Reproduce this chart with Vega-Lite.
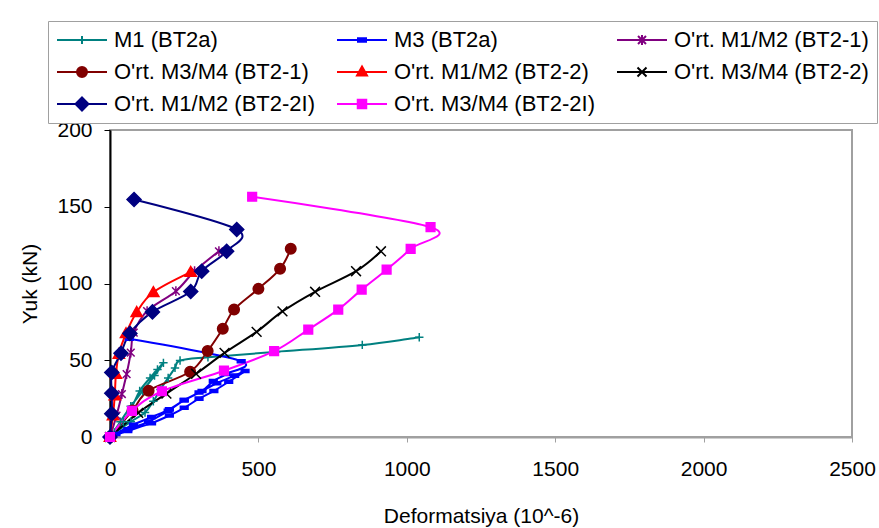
{
  "$schema": "https://vega.github.io/schema/vega-lite/v6.json",
  "width": 742,
  "height": 307,
  "autosize": {"type": "none"},
  "padding": {"left": 110, "top": 130, "right": 27, "bottom": 91},
  "background": "white",
  "config": {
    "font": "Liberation Sans",
    "view": {"stroke": "#a0a0a0", "strokeWidth": 2},
    "axis": {
      "labelFont": "Liberation Sans",
      "labelFontSize": 21,
      "labelColor": "black",
      "labelFlush": false,
      "titleFont": "Liberation Sans",
      "titleFontSize": 21,
      "titleFontWeight": "normal",
      "titleColor": "black",
      "grid": false
    },
    "legend": {
      "title": null,
      "orient": "none",
      "legendX": -62,
      "legendY": -109,
      "direction": "horizontal",
      "columns": 3,
      "gridAlign": "all",
      "labelFont": "Liberation Sans",
      "labelFontSize": 22,
      "labelColor": "black",
      "labelLimit": 400,
      "symbolSize": 100,
      "symbolStrokeWidth": 2,
      "symbolOpacity": 1,
      "symbolOffset": 15,
      "labelOffset": 21,
      "columnPadding": 18,
      "rowPadding": 10,
      "padding": 8,
      "strokeColor": "#a0a0a0",
      "fillColor": "white"
    }
  },
  "data": {
    "values": [
      {"s": "M1 (BT2a)", "i": 0, "x": 0, "y": 0},
      {"s": "M1 (BT2a)", "i": 1, "x": 45, "y": 10},
      {"s": "M1 (BT2a)", "i": 2, "x": 75, "y": 20},
      {"s": "M1 (BT2a)", "i": 3, "x": 100, "y": 30},
      {"s": "M1 (BT2a)", "i": 4, "x": 135, "y": 38.5},
      {"s": "M1 (BT2a)", "i": 5, "x": 160, "y": 44},
      {"s": "M1 (BT2a)", "i": 6, "x": 180, "y": 48.3},
      {"s": "M1 (BT2a)", "i": 7, "x": 150, "y": 40},
      {"s": "M1 (BT2a)", "i": 8, "x": 110, "y": 30},
      {"s": "M1 (BT2a)", "i": 9, "x": 70, "y": 20},
      {"s": "M1 (BT2a)", "i": 10, "x": 35, "y": 10},
      {"s": "M1 (BT2a)", "i": 11, "x": 15, "y": 3},
      {"s": "M1 (BT2a)", "i": 12, "x": 70, "y": 10},
      {"s": "M1 (BT2a)", "i": 13, "x": 118, "y": 16},
      {"s": "M1 (BT2a)", "i": 14, "x": 146, "y": 23.3},
      {"s": "M1 (BT2a)", "i": 15, "x": 170, "y": 31},
      {"s": "M1 (BT2a)", "i": 16, "x": 196, "y": 38.5},
      {"s": "M1 (BT2a)", "i": 17, "x": 219, "y": 45},
      {"s": "M1 (BT2a)", "i": 18, "x": 236, "y": 49.8},
      {"s": "M1 (BT2a)", "i": 19, "x": 330, "y": 52},
      {"s": "M1 (BT2a)", "i": 20, "x": 560, "y": 55.5},
      {"s": "M1 (BT2a)", "i": 21, "x": 850, "y": 60},
      {"s": "M1 (BT2a)", "i": 22, "x": 1042, "y": 65},

      {"s": "M3 (BT2a)", "i": 0, "x": 0, "y": 0},
      {"s": "M3 (BT2a)", "i": 1, "x": 60, "y": 4},
      {"s": "M3 (BT2a)", "i": 2, "x": 140, "y": 9},
      {"s": "M3 (BT2a)", "i": 3, "x": 200, "y": 14},
      {"s": "M3 (BT2a)", "i": 4, "x": 250, "y": 19},
      {"s": "M3 (BT2a)", "i": 5, "x": 300, "y": 25},
      {"s": "M3 (BT2a)", "i": 6, "x": 350, "y": 30},
      {"s": "M3 (BT2a)", "i": 7, "x": 400, "y": 36},
      {"s": "M3 (BT2a)", "i": 8, "x": 455, "y": 43},
      {"s": "M3 (BT2a)", "i": 9, "x": 420, "y": 40},
      {"s": "M3 (BT2a)", "i": 10, "x": 360, "y": 35},
      {"s": "M3 (BT2a)", "i": 11, "x": 300, "y": 29},
      {"s": "M3 (BT2a)", "i": 12, "x": 250, "y": 24},
      {"s": "M3 (BT2a)", "i": 13, "x": 196, "y": 17},
      {"s": "M3 (BT2a)", "i": 14, "x": 130, "y": 10},
      {"s": "M3 (BT2a)", "i": 15, "x": 60, "y": 5},
      {"s": "M3 (BT2a)", "i": 16, "x": 20, "y": 2},
      {"s": "M3 (BT2a)", "i": 17, "x": 79, "y": 8},
      {"s": "M3 (BT2a)", "i": 18, "x": 140, "y": 13},
      {"s": "M3 (BT2a)", "i": 19, "x": 200, "y": 18},
      {"s": "M3 (BT2a)", "i": 20, "x": 250, "y": 24},
      {"s": "M3 (BT2a)", "i": 21, "x": 310, "y": 30},
      {"s": "M3 (BT2a)", "i": 22, "x": 348, "y": 36.4},
      {"s": "M3 (BT2a)", "i": 23, "x": 390, "y": 41},
      {"s": "M3 (BT2a)", "i": 24, "x": 442, "y": 49.4},
      {"s": "M3 (BT2a)", "i": 25, "x": 65, "y": 64},

      {"s": "O'rt. M1/M2 (BT2-1)", "i": 0, "x": 0, "y": 0},
      {"s": "O'rt. M1/M2 (BT2-1)", "i": 1, "x": 22, "y": 14},
      {"s": "O'rt. M1/M2 (BT2-1)", "i": 2, "x": 40, "y": 28},
      {"s": "O'rt. M1/M2 (BT2-1)", "i": 3, "x": 56, "y": 41},
      {"s": "O'rt. M1/M2 (BT2-1)", "i": 4, "x": 70, "y": 55},
      {"s": "O'rt. M1/M2 (BT2-1)", "i": 5, "x": 80, "y": 68},
      {"s": "O'rt. M1/M2 (BT2-1)", "i": 6, "x": 125, "y": 82},
      {"s": "O'rt. M1/M2 (BT2-1)", "i": 7, "x": 222, "y": 95},
      {"s": "O'rt. M1/M2 (BT2-1)", "i": 8, "x": 285, "y": 108},
      {"s": "O'rt. M1/M2 (BT2-1)", "i": 9, "x": 367, "y": 121},

      {"s": "O'rt. M3/M4 (BT2-1)", "i": 0, "x": 0, "y": 0},
      {"s": "O'rt. M3/M4 (BT2-1)", "i": 1, "x": 76, "y": 17.3},
      {"s": "O'rt. M3/M4 (BT2-1)", "i": 2, "x": 130, "y": 30.2},
      {"s": "O'rt. M3/M4 (BT2-1)", "i": 3, "x": 270, "y": 42.5},
      {"s": "O'rt. M3/M4 (BT2-1)", "i": 4, "x": 329, "y": 56},
      {"s": "O'rt. M3/M4 (BT2-1)", "i": 5, "x": 380, "y": 70.5},
      {"s": "O'rt. M3/M4 (BT2-1)", "i": 6, "x": 418, "y": 83},
      {"s": "O'rt. M3/M4 (BT2-1)", "i": 7, "x": 500, "y": 96.5},
      {"s": "O'rt. M3/M4 (BT2-1)", "i": 8, "x": 573, "y": 109.6},
      {"s": "O'rt. M3/M4 (BT2-1)", "i": 9, "x": 609, "y": 122.6},

      {"s": "O'rt. M1/M2 (BT2-2)", "i": 0, "x": 0, "y": 0},
      {"s": "O'rt. M1/M2 (BT2-2)", "i": 1, "x": 10, "y": 14},
      {"s": "O'rt. M1/M2 (BT2-2)", "i": 2, "x": 16, "y": 27},
      {"s": "O'rt. M1/M2 (BT2-2)", "i": 3, "x": 20, "y": 41},
      {"s": "O'rt. M1/M2 (BT2-2)", "i": 4, "x": 30, "y": 54},
      {"s": "O'rt. M1/M2 (BT2-2)", "i": 5, "x": 54, "y": 67.5},
      {"s": "O'rt. M1/M2 (BT2-2)", "i": 6, "x": 90, "y": 81.3},
      {"s": "O'rt. M1/M2 (BT2-2)", "i": 7, "x": 146, "y": 94.3},
      {"s": "O'rt. M1/M2 (BT2-2)", "i": 8, "x": 272, "y": 107.4},

      {"s": "O'rt. M3/M4 (BT2-2)", "i": 0, "x": 0, "y": 0},
      {"s": "O'rt. M3/M4 (BT2-2)", "i": 1, "x": 95, "y": 15.7},
      {"s": "O'rt. M3/M4 (BT2-2)", "i": 2, "x": 190, "y": 28.3},
      {"s": "O'rt. M3/M4 (BT2-2)", "i": 3, "x": 290, "y": 41.2},
      {"s": "O'rt. M3/M4 (BT2-2)", "i": 4, "x": 386, "y": 54.8},
      {"s": "O'rt. M3/M4 (BT2-2)", "i": 5, "x": 494, "y": 68.5},
      {"s": "O'rt. M3/M4 (BT2-2)", "i": 6, "x": 581, "y": 81.8},
      {"s": "O'rt. M3/M4 (BT2-2)", "i": 7, "x": 691, "y": 94.6},
      {"s": "O'rt. M3/M4 (BT2-2)", "i": 8, "x": 829, "y": 108},
      {"s": "O'rt. M3/M4 (BT2-2)", "i": 9, "x": 913, "y": 121},

      {"s": "O'rt. M1/M2 (BT2-2I)", "i": 0, "x": 0, "y": 0},
      {"s": "O'rt. M1/M2 (BT2-2I)", "i": 1, "x": 6, "y": 15.2},
      {"s": "O'rt. M1/M2 (BT2-2I)", "i": 2, "x": 6, "y": 28.5},
      {"s": "O'rt. M1/M2 (BT2-2I)", "i": 3, "x": 6, "y": 42},
      {"s": "O'rt. M1/M2 (BT2-2I)", "i": 4, "x": 37, "y": 54.6},
      {"s": "O'rt. M1/M2 (BT2-2I)", "i": 5, "x": 67, "y": 67.5},
      {"s": "O'rt. M1/M2 (BT2-2I)", "i": 6, "x": 143, "y": 81.5},
      {"s": "O'rt. M1/M2 (BT2-2I)", "i": 7, "x": 272, "y": 94.8},
      {"s": "O'rt. M1/M2 (BT2-2I)", "i": 8, "x": 309, "y": 108},
      {"s": "O'rt. M1/M2 (BT2-2I)", "i": 9, "x": 393, "y": 121},
      {"s": "O'rt. M1/M2 (BT2-2I)", "i": 10, "x": 427, "y": 135.2},
      {"s": "O'rt. M1/M2 (BT2-2I)", "i": 11, "x": 81, "y": 154.7},

      {"s": "O'rt. M3/M4 (BT2-2I)", "i": 0, "x": 0, "y": 0},
      {"s": "O'rt. M3/M4 (BT2-2I)", "i": 1, "x": 74, "y": 17},
      {"s": "O'rt. M3/M4 (BT2-2I)", "i": 2, "x": 175, "y": 29.8},
      {"s": "O'rt. M3/M4 (BT2-2I)", "i": 3, "x": 384, "y": 43.2},
      {"s": "O'rt. M3/M4 (BT2-2I)", "i": 4, "x": 553, "y": 55.9},
      {"s": "O'rt. M3/M4 (BT2-2I)", "i": 5, "x": 668, "y": 70},
      {"s": "O'rt. M3/M4 (BT2-2I)", "i": 6, "x": 769, "y": 83},
      {"s": "O'rt. M3/M4 (BT2-2I)", "i": 7, "x": 848, "y": 96},
      {"s": "O'rt. M3/M4 (BT2-2I)", "i": 8, "x": 932, "y": 109},
      {"s": "O'rt. M3/M4 (BT2-2I)", "i": 9, "x": 1013, "y": 122.6},
      {"s": "O'rt. M3/M4 (BT2-2I)", "i": 10, "x": 1080, "y": 136.7},
      {"s": "O'rt. M3/M4 (BT2-2I)", "i": 11, "x": 479, "y": 156.5}
    ]
  },
  "encoding": {
    "x": {
      "field": "x",
      "type": "quantitative",
      "scale": {"domain": [0, 2500], "nice": false, "zero": false},
      "axis": {
        "title": "Deformatsiya (10^-6)",
        "values": [0, 500, 1000, 1500, 2000, 2500],
        "format": "d",
        "domainColor": "#a0a0a0",
        "domainWidth": 2,
        "tickColor": "#a0a0a0",
        "tickSize": 5,
        "labelPadding": 16,
        "titlePadding": 26
      }
    },
    "y": {
      "field": "y",
      "type": "quantitative",
      "scale": {"domain": [0, 200], "nice": false},
      "axis": {
        "title": "Yuk (kN)",
        "values": [0, 50, 100, 150, 200],
        "format": "d",
        "domainColor": "black",
        "domainWidth": 2,
        "tickColor": "black",
        "tickSize": 6,
        "labelPadding": 12,
        "titlePadding": 16
      }
    }
  },
  "resolve": {
    "scale": {"stroke": "independent", "fill": "independent", "shape": "independent"},
    "legend": {"stroke": "independent", "fill": "independent", "shape": "independent"}
  },
  "layer": [
    {
      "mark": {"type": "line", "strokeWidth": 2, "interpolate": "cardinal"},
      "encoding": {
        "order": {"field": "i", "type": "quantitative"},
        "stroke": {
          "field": "s",
          "type": "nominal",
          "scale": {
            "domain": ["M1 (BT2a)", "M3 (BT2a)", "O'rt. M1/M2 (BT2-1)", "O'rt. M3/M4 (BT2-1)", "O'rt. M1/M2 (BT2-2)", "O'rt. M3/M4 (BT2-2)", "O'rt. M1/M2 (BT2-2I)", "O'rt. M3/M4 (BT2-2I)"],
            "range": ["#008080", "#0000ff", "#800080", "#800000", "#ff0000", "#000000", "#000080", "#ff00ff"]
          },
          "legend": null
        }
      }
    },
    {
      "mark": {"type": "point", "filled": true, "size": 196, "strokeWidth": 1.5, "opacity": 1},
      "encoding": {
        "stroke": {
          "field": "s",
          "type": "nominal",
          "scale": {
            "domain": ["M1 (BT2a)", "M3 (BT2a)", "O'rt. M1/M2 (BT2-1)", "O'rt. M3/M4 (BT2-1)", "O'rt. M1/M2 (BT2-2)", "O'rt. M3/M4 (BT2-2)", "O'rt. M1/M2 (BT2-2I)", "O'rt. M3/M4 (BT2-2I)"],
            "range": ["#008080", "#0000ff", "#800080", "#800000", "#ff0000", "#000000", "#000080", "#ff00ff"]
          },
          "legend": null
        },
        "fill": {
          "field": "s",
          "type": "nominal",
          "scale": {
            "domain": ["M1 (BT2a)", "M3 (BT2a)", "O'rt. M1/M2 (BT2-1)", "O'rt. M3/M4 (BT2-1)", "O'rt. M1/M2 (BT2-2)", "O'rt. M3/M4 (BT2-2)", "O'rt. M1/M2 (BT2-2I)", "O'rt. M3/M4 (BT2-2I)"],
            "range": ["#008080", "#0000ff", "#800080", "#800000", "#ff0000", "#000000", "#000080", "#ff00ff"]
          },
          "legend": null
        },
        "shape": {
          "field": "s",
          "type": "nominal",
          "scale": {
            "domain": ["M1 (BT2a)", "M3 (BT2a)", "O'rt. M1/M2 (BT2-1)", "O'rt. M3/M4 (BT2-1)", "O'rt. M1/M2 (BT2-2)", "O'rt. M3/M4 (BT2-2)", "O'rt. M1/M2 (BT2-2I)", "O'rt. M3/M4 (BT2-2I)"],
            "range": [
              "M-0.6,0H0.6M0,-0.6V0.6",
              "M-0.55,-0.22H0.55V0.22H-0.55Z",
              "M-0.55,-0.55L0.55,0.55M-0.55,0.55L0.55,-0.55M0,-0.7V0.7",
              "M0.75,0C0.75,0.414,0.414,0.75,0,0.75C-0.414,0.75,-0.75,0.414,-0.75,0C-0.75,-0.414,-0.414,-0.75,0,-0.75C0.414,-0.75,0.75,-0.414,0.75,0Z",
              "M0,-0.8L0.8,0.6L-0.8,0.6Z",
              "M-0.7,-0.7L0.7,0.7M-0.7,0.7L0.7,-0.7",
              "M0,-1L1,0L0,1L-1,0Z",
              "M-0.62,-0.62H0.62V0.62H-0.62Z"
            ]
          },
          "legend": null
        }
      }
    },
    {
      "transform": [{"filter": "false"}],
      "mark": {"type": "point", "filled": true, "size": 100, "strokeWidth": 2, "opacity": 1},
      "encoding": {
        "stroke": {
          "field": "s",
          "type": "nominal",
          "scale": {
            "domain": ["M1 (BT2a)", "M3 (BT2a)", "O'rt. M1/M2 (BT2-1)", "O'rt. M3/M4 (BT2-1)", "O'rt. M1/M2 (BT2-2)", "O'rt. M3/M4 (BT2-2)", "O'rt. M1/M2 (BT2-2I)", "O'rt. M3/M4 (BT2-2I)"],
            "range": ["#008080", "#0000ff", "#800080", "#800000", "#ff0000", "#000000", "#000080", "#ff00ff"]
          }
        },
        "fill": {
          "field": "s",
          "type": "nominal",
          "scale": {
            "domain": ["M1 (BT2a)", "M3 (BT2a)", "O'rt. M1/M2 (BT2-1)", "O'rt. M3/M4 (BT2-1)", "O'rt. M1/M2 (BT2-2)", "O'rt. M3/M4 (BT2-2)", "O'rt. M1/M2 (BT2-2I)", "O'rt. M3/M4 (BT2-2I)"],
            "range": ["#008080", "#0000ff", "#800080", "#800000", "#ff0000", "#000000", "#000080", "#ff00ff"]
          }
        },
        "shape": {
          "field": "s",
          "type": "nominal",
          "scale": {
            "domain": ["M1 (BT2a)", "M3 (BT2a)", "O'rt. M1/M2 (BT2-1)", "O'rt. M3/M4 (BT2-1)", "O'rt. M1/M2 (BT2-2)", "O'rt. M3/M4 (BT2-2)", "O'rt. M1/M2 (BT2-2I)", "O'rt. M3/M4 (BT2-2I)"],
            "range": [
              "M-5,0H5M0,-0.8V0.8",
              "M-5,0H5M-0.8,-0.35H0.8V0.35H-0.8Z",
              "M-5,0H5M-0.8,-0.8L0.8,0.8M-0.8,0.8L0.8,-0.8M0,-1V1",
              "M-5,0H5M1,0C1,0.552,0.552,1,0,1C-0.552,1,-1,0.552,-1,0C-1,-0.552,-0.552,-1,0,-1C0.552,-1,1,-0.552,1,0Z",
              "M-5,0H5M0,-1.1L1,0.7L-1,0.7Z",
              "M-5,0H5M-0.9,-0.9L0.9,0.9M-0.9,0.9L0.9,-0.9",
              "M-5,0H5M0,-1.3L1.3,0L0,1.3L-1.3,0Z",
              "M-5,0H5M-0.85,-0.85H0.85V0.85H-0.85Z"
            ]
          }
        }
      }
    }
  ]
}
